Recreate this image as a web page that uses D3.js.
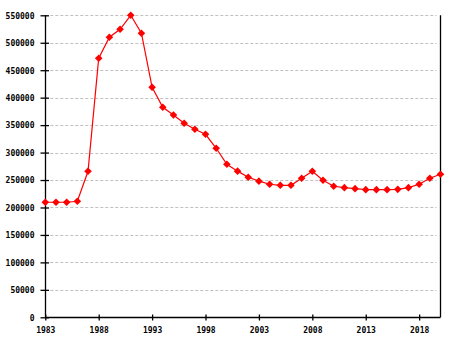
<!DOCTYPE html>
<html><head><meta charset="utf-8">
<script src="https://cdn.jsdelivr.net/npm/d3@7"></script>
<style>
html,body{margin:0;padding:0;background:#fff;}
svg{display:block;}
text{font-family:"DejaVu Sans Mono",monospace;font-weight:bold;font-size:8px;fill:#000;}
</style></head>
<body>
<svg id="chart" width="455" height="340"></svg>
<script>
const years = [1983,1984,1985,1986,1987,1988,1989,1990,1991,1992,1993,1994,1995,1996,1997,1998,1999,2000,2001,2002,2003,2004,2005,2006,2007,2008,2009,2010,2011,2012,2013,2014,2015,2016,2017,2018,2019,2020];
const population = [209500,209500,209500,211300,265900,471700,510000,524600,550000,517300,418900,382500,368500,353400,342400,333300,307800,278700,266200,255000,248000,242300,240400,240400,253200,266000,249500,238600,236100,234300,232500,232500,232500,233000,236100,242300,253200,260500];
const xTicks = [1983,1988,1993,1998,2003,2008,2013,2018];
const yTicks = [0,50000,100000,150000,200000,250000,300000,350000,400000,450000,500000,550000];

const svg = d3.select("#chart");
const pLeft = 45.3, pRight = 440.5, pTop = 15.3, pBottom = 317.3;
const x = d3.scaleLinear().domain([1983,2020]).range([pLeft,pRight]);
const y = d3.scaleLinear().domain([0,550000]).range([pBottom,pTop]);

// gridlines
svg.append("g").selectAll("line").data(yTicks.filter(d=>d>0)).join("line")
  .attr("x1",pLeft+5).attr("x2",pRight-4)
  .attr("y1",d=>Math.round(y(d))+0.5).attr("y2",d=>Math.round(y(d))+0.5)
  .attr("stroke","#c0c0c0").attr("stroke-width",1).attr("stroke-dasharray","3,2");

// y axis
const yAxis = d3.axisLeft(y).tickValues(yTicks).tickFormat(d3.format("d")).tickSize(5).tickPadding(5);
const gy = svg.append("g").attr("transform",`translate(${Math.round(pLeft)+0.5},0)`).call(yAxis);
gy.select(".domain").remove();
gy.selectAll(".tick line").attr("x2",-5).attr("x1",3.5).attr("stroke","#000").attr("stroke-width",1.3);
gy.selectAll(".tick text").attr("x",-11).attr("dy","0.35em").style("font-family","DejaVu Sans Mono").style("font-size","8px").style("font-weight","bold");
svg.append("line").attr("x1",Math.round(pLeft)+0.5).attr("x2",Math.round(pLeft)+0.5).attr("y1",pTop).attr("y2",pBottom)
  .attr("stroke","#000").attr("stroke-width",1.3);

// x axis
const xAxis = d3.axisBottom(x).tickValues(xTicks).tickFormat(d3.format("d")).tickSize(3).tickPadding(7);
const gx = svg.append("g").attr("transform",`translate(0,${Math.round(pBottom)+0.5})`).call(xAxis);
gx.select(".domain").remove();
gx.selectAll(".tick line").attr("y1",-3).attr("y2",3).attr("stroke","#000").attr("stroke-width",1.3);
gx.selectAll(".tick text").style("font-family","DejaVu Sans Mono").style("font-size","8px").style("font-weight","bold");
svg.append("line").attr("x1",pLeft).attr("x2",pRight).attr("y1",Math.round(pBottom)+0.5).attr("y2",Math.round(pBottom)+0.5)
  .attr("stroke","#000").attr("stroke-width",1.3);
// right border
svg.append("line").attr("x1",Math.round(pRight)-0.5).attr("x2",Math.round(pRight)-0.5).attr("y1",pTop).attr("y2",pBottom)
  .attr("stroke","#000").attr("stroke-width",1.3);

// line
const data = years.map((yr,i)=>({yr, v: population[i]}));
svg.append("path").datum(data)
  .attr("fill","none").attr("stroke","#ff0000").attr("stroke-width",1.2)
  .attr("d", d3.line().x(d=>x(d.yr)).y(d=>y(d.v)));

// markers (diamonds)
const r = 3.8;
svg.append("g").selectAll("path").data(data).join("path")
  .attr("transform",d=>`translate(${x(d.yr)},${y(d.v)})`)
  .attr("d",`M0,${-r}L${r},0L0,${r}L${-r},0Z`)
  .attr("fill","#ff0000");
</script>
</body></html>
